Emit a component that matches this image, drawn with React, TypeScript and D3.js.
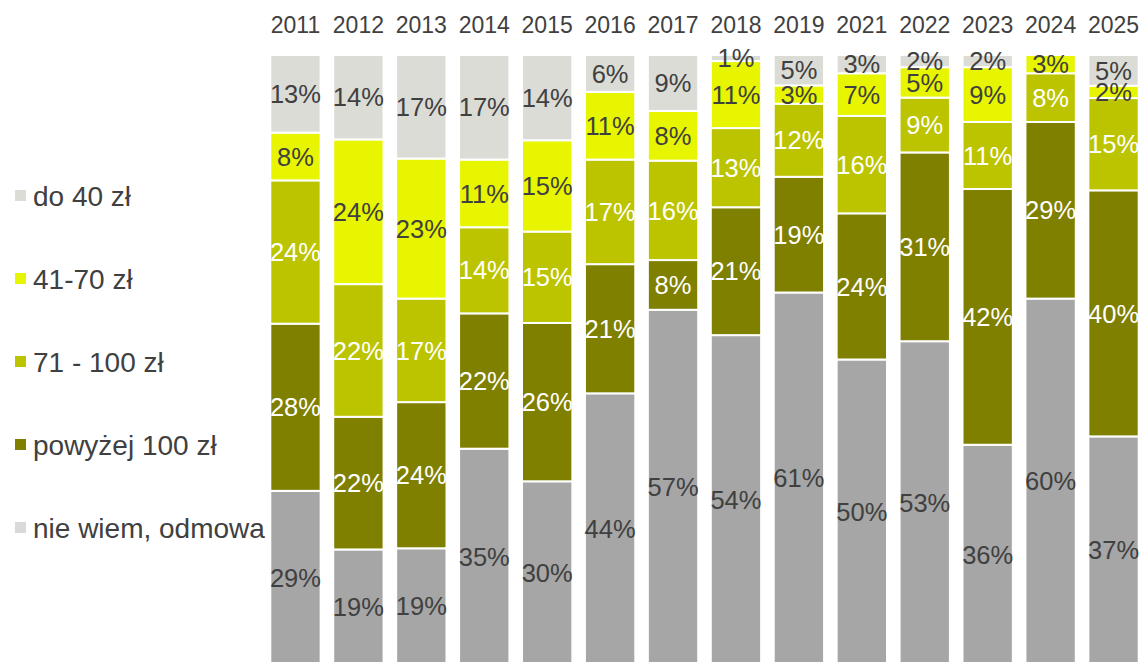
import React from "react";
import * as d3 from "d3";

const years = ["2011","2012","2013","2014","2015","2016","2017","2018","2019","2021","2022","2023","2024","2025"];
const seriesNames = ["nie wiem, odmowa","powyżej 100 zł","71 - 100 zł","41-70 zł","do 40 zł"];
const nieWiem = [29,19,19,35,30,44,57,54,61,50,53,36,60,37];
const powyzej100 = [28,22,24,22,26,21,8,21,19,24,31,42,29,40];
const od71do100 = [24,22,17,14,15,17,16,13,12,16,9,11,8,15];
const od41do70 = [8,24,23,11,15,11,8,11,3,7,5,9,3,2];
const do40 = [13,14,17,17,14,6,9,1,5,3,2,2,0,5];
const legendOrder = ["do 40 zł","41-70 zł","71 - 100 zł","powyżej 100 zł","nie wiem, odmowa"];

const colors: Record<string,string> = {
  "nie wiem, odmowa": "#a6a6a6",
  "powyżej 100 zł": "#7f7f00",
  "71 - 100 zł": "#bcc400",
  "41-70 zł": "#e8f500",
  "do 40 zł": "#dcdcd6",
};
const legendColors: Record<string,string> = {
  "do 40 zł": "#dcdcd6",
  "41-70 zł": "#e8f500",
  "71 - 100 zł": "#bcc400",
  "powyżej 100 zł": "#7f7f00",
  "nie wiem, odmowa": "#d9d9d9",
};
const whiteLabel = new Set(["powyżej 100 zł","71 - 100 zł"]);

export default function App() {
  const W = 1145, H = 662;
  const font = "Liberation Sans, Arial, sans-serif";
  const textDark = "#404040";
  const seriesVals = [nieWiem, powyzej100, od71do100, od41do70, do40];
  const rows = years.map((y, i) => {
    const r: any = { year: y };
    seriesNames.forEach((s, k) => (r[s] = seriesVals[k][i]));
    return r;
  });
  const stack = d3.stack<any>().keys(seriesNames).offset(d3.stackOffsetExpand);
  const layers = stack(rows);
  const x = d3.scaleBand().domain(years).range([264, 1145]).paddingInner(0.2).paddingOuter(0.1);
  const y = d3.scaleLinear().domain([0, 1]).range([664, 55]);
  const legendY = d3.scalePoint().domain(legendOrder).range([196, 528]);

  return (
    <svg width={W} height={H} style={{ position: "absolute", left: 0, top: 0, display: "block" }} fontFamily={font}>
      <rect width={W} height={H} fill="#fff" />
      {years.map((yr) => (
        <text key={yr} x={(x(yr) as number) + x.bandwidth() / 2} y={33} textAnchor="middle" fontSize={23} fill={textDark}>{yr}</text>
      ))}
      {layers.map((layer) => (
        <g key={layer.key}>
          {layer.map((d, i) => {
            const yr = years[i];
            const y0 = y(d[0]), y1 = y(d[1]);
            const h = y0 - y1;
            if (h <= 0) return null;
            return (
              <rect key={yr} x={x(yr)} y={y1} width={x.bandwidth()} height={h} fill={colors[layer.key]} stroke="#fff" strokeWidth={2} />
            );
          })}
        </g>
      ))}
      {layers.map((layer) => (
        <g key={"l" + layer.key}>
          {layer.map((d, i) => {
            const yr = years[i];
            const v = (d.data as any)[layer.key];
            if (!v) return null;
            const cy = (y(d[0]) + y(d[1])) / 2;
            return (
              <text key={yr} x={(x(yr) as number) + x.bandwidth() / 2} y={cy} dy="0.36em" textAnchor="middle" fontSize={25.5}
                fill={whiteLabel.has(layer.key) ? "#fff" : textDark}>{v}%</text>
            );
          })}
        </g>
      ))}
      {legendOrder.map((s) => (
        <g key={s} transform={`translate(0,${legendY(s)})`}>
          <rect x={15} y={-6} width={11} height={11} fill={legendColors[s]} />
          <text x={33} y={0} dy="0.36em" fontSize={28} fill={textDark}>{s}</text>
        </g>
      ))}
    </svg>
  );
}
